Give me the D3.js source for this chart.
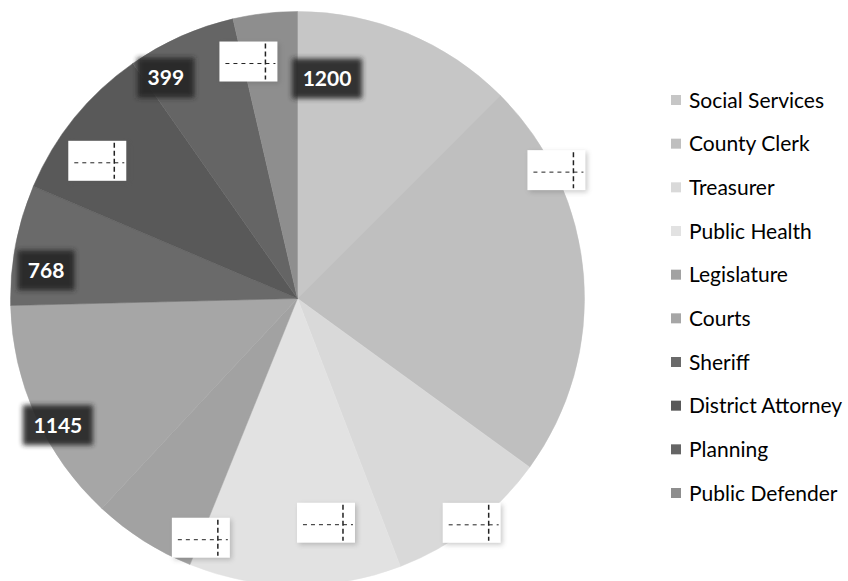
<!DOCTYPE html>
<html>
<head>
<meta charset="utf-8">
<script src="https://cdn.jsdelivr.net/npm/d3@7"></script>
<style>
  body { margin: 0; background: #fff; }
  svg { display: block; }
  .legend text { font-family: Lato, "Open Sans", sans-serif; font-size: 21px; fill: #000; }
  .vlabel { font-family: Lato, "Open Sans", sans-serif; font-size: 21px; font-weight: bold; fill: #fff; }
</style>
</head>
<body>
<div id="chart"></div>
<script>
// departments, clockwise from 12 o'clock
const departments = ["Social Services", "County Clerk", "Treasurer", "Public Health", "Legislature",
                     "Courts", "Sheriff", "District Attorney", "Planning", "Public Defender"];
// slice sizes (degrees of the circle)
const shares = [45, 81, 33, 43, 21, 45.6, 24.4, 32, 22, 13];
// value labels printed on the slices ("" = blank white label box)
const valueLabels = ["1200", "", "", "", "", "1145", "768", "", "399", ""];

const greys = ["#c6c6c6", "#bfbfbf", "#d9d9d9", "#e2e2e2", "#a2a2a2",
               "#a6a6a6", "#6a6a6a", "#595959", "#656565", "#8e8e8e"];

// where each label sits: fraction through its slice, radius
const labelFrac = [0.17, 0.23, 0.49, 0.32, 0.0, 0.42, 0.32, 0.36, 0.19, 0.1];
const labelRad  = [222, 289, 284, 226, 258, 271, 253, 243, 257, 242];

const width = 848, height = 581;
const cx = 297.5, cy = 298.5, radius = 287;

const svg = d3.select("#chart").append("svg")
  .attr("width", width)
  .attr("height", height);

const defs = svg.append("defs");
defs.append("filter").attr("id", "soft")
  .attr("x", "-30%").attr("y", "-30%").attr("width", "160%").attr("height", "160%")
  .append("feGaussianBlur").attr("stdDeviation", 2.5);

const color = d3.scaleOrdinal().domain(departments).range(greys);

const pie = d3.pie().sort(null).value(d => d.v);
const arcs = pie(departments.map((name, i) => ({ name: name, v: shares[i], label: valueLabels[i], i: i })));

const arc = d3.arc().innerRadius(0).outerRadius(radius);

const g = svg.append("g").attr("transform", `translate(${cx},${cy})`);

g.selectAll("path.slice")
  .data(arcs)
  .enter().append("path")
  .attr("class", "slice")
  .attr("d", arc)
  .attr("fill", d => color(d.data.name))
  .attr("stroke", d => color(d.data.name))
  .attr("stroke-width", 0.5);

// data labels
const labels = g.selectAll("g.lab")
  .data(arcs)
  .enter().append("g")
  .attr("class", "lab")
  .attr("transform", d => {
    const i = d.data.i;
    const a = d.startAngle + labelFrac[i] * (d.endAngle - d.startAngle);
    return `translate(${Math.sin(a) * labelRad[i]},${-Math.cos(a) * labelRad[i]})`;
  });

labels.each(function(d) {
  const sel = d3.select(this);
  if (d.data.label) {
    const w = 18 + d.data.label.length * 13;
    sel.append("rect")
      .attr("x", -w / 2).attr("y", -20)
      .attr("width", w).attr("height", 40)
      .attr("fill", "#262626")
      .attr("opacity", 0.92)
      .attr("filter", "url(#soft)");
    sel.append("text")
      .attr("class", "vlabel")
      .attr("text-anchor", "middle")
      .attr("y", 7.5)
      .text(d.data.label);
  } else {
    const w = 58, h = 40;
    sel.append("rect")
      .attr("x", -w / 2 + 2).attr("y", -h / 2 + 2)
      .attr("width", w).attr("height", h)
      .attr("fill", "#555").attr("opacity", 0.3)
      .attr("filter", "url(#soft)");
    sel.append("rect")
      .attr("x", -w / 2).attr("y", -h / 2)
      .attr("width", w).attr("height", h)
      .attr("fill", "#fff");
    sel.append("line")
      .attr("x1", -w / 2 + 6).attr("x2", w / 2 - 2)
      .attr("y1", 2).attr("y2", 2)
      .attr("stroke", "#222").attr("stroke-width", 1)
      .attr("stroke-dasharray", "4,4");
    sel.append("line")
      .attr("x1", w / 2 - 12).attr("x2", w / 2 - 12)
      .attr("y1", -h / 2 + 2).attr("y2", h / 2 - 2)
      .attr("stroke", "#222").attr("stroke-width", 1.5)
      .attr("stroke-dasharray", "5,3");
  }
});

// legend
const rowY = d3.scalePoint().domain(departments).range([100, 493]);

const legend = svg.append("g").attr("class", "legend");
const items = legend.selectAll("g")
  .data(departments)
  .enter().append("g")
  .attr("transform", d => `translate(671,${rowY(d)})`);

items.append("rect")
  .attr("x", 0).attr("y", -5)
  .attr("width", 10).attr("height", 10)
  .attr("fill", d => color(d));

items.append("text")
  .attr("x", 18)
  .attr("y", 7.5)
  .text(d => d);
</script>
</body>
</html>
